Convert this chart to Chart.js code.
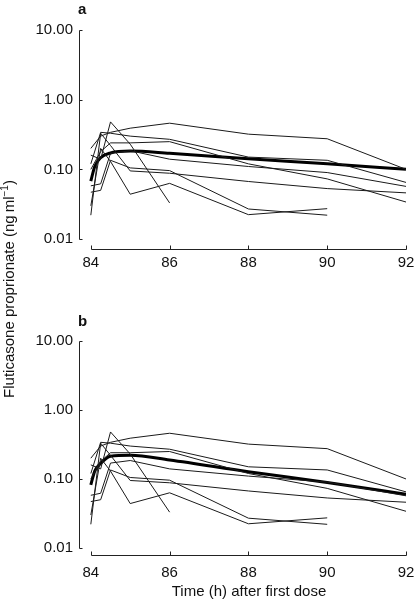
<!DOCTYPE html>
<html>
<head>
<meta charset="utf-8">
<script src="https://cdn.jsdelivr.net/npm/chart.js@4.4.1/dist/chart.umd.min.js"></script>
<style>
  body { margin: 0; background: #fff; }
  #wrap { position: relative; width: 418px; height: 602px; overflow: hidden; }
  .panel { position: absolute; left: 0; width: 418px; height: 301px; }
  #ytitle {
    position: absolute; left: -120px; top: 279px; width: 260px; height: 20px;
    line-height: 20px; text-align: center; white-space: nowrap;
    font: 15px "Liberation Sans", Arial, sans-serif; color: #111;
    transform: rotate(-90deg);
  }
</style>
</head>
<body>
<div id="wrap">
  <canvas id="chartA" class="panel" style="top:0" width="418" height="301"></canvas>
  <canvas id="chartB" class="panel" style="top:301px" width="418" height="301"></canvas>
  <div id="ytitle">Fluticasone proprionate (ng&#8201;ml<sup style="font-size:10px;line-height:0">&minus;1</sup>)</div>
</div>
<script>
// sampling times (h after first dose)
var times = [84, 84.25, 84.5, 85, 86, 88, 90, 92];
// individual subjects, ng/ml (null = not measured / below limit)
var subj1 = [0.20, 0.30, 0.34, 0.39, 0.46, 0.32, 0.275, 0.10];
var subj2 = [0.12, 0.34, 0.33, 0.30, 0.27, 0.15, 0.135, 0.065];
var subj3 = [0.10, 0.18, 0.24, 0.24, 0.25, 0.12, 0.073, 0.034];
var subj4 = [0.058, 0.062, 0.17, 0.185, 0.14, 0.11, 0.09, 0.057];
var subj5 = [0.022, 0.33, 0.22, 0.095, 0.088, 0.067, 0.053, 0.046];
var subj6 = [0.047, 0.05, 0.135, 0.105, 0.096, 0.027, 0.022, null];
var subj7 = [0.03, 0.2, 0.13, 0.044, 0.063, 0.0224, 0.0273, null];
var subj8 = [0.16, 0.14, 0.48, 0.23, 0.033, null, null, null];
var subjects = [subj1, subj2, subj3, subj4, subj5, subj6, subj7, subj8];

// predicted profiles (thick line)
var predTimes = [84, 84.1, 84.25, 84.5, 85, 86, 88, 90, 92];
var predA = [0.068, 0.11, 0.147, 0.172, 0.183, 0.17, 0.142, 0.12, 0.10];
var predB = [0.082, 0.13, 0.168, 0.214, 0.22, 0.188, 0.127, 0.089, 0.060];

var yTicks = [0.01, 0.1, 1, 10];
var xTicks = [84, 86, 88, 90, 92];

var FONT = '"Liberation Sans", Arial, sans-serif';

function toPoints(xs, ys) {
    var pts = [];
    for (var i = 0; i < xs.length; i++) {
        if (ys[i] != null) pts.push({ x: xs[i], y: ys[i] });
    }
    return pts;
}

// axes drawn like the original: offset, ticks pointing inward
var axesPlugin = {
    id: 'axes',
    afterDraw: function (chart) {
        var o = chart.options.plugins.axes;
        var ctx = chart.ctx, xs = chart.scales.x, ys = chart.scales.y;
        var left = Math.round(chart.chartArea.left) + 0.5;
        var bottom = Math.round(chart.chartArea.bottom) + 0.5;
        ctx.save();
        ctx.strokeStyle = '#222';
        ctx.lineWidth = 1;
        ctx.beginPath();
        var yTop = Math.round(ys.getPixelForValue(yTicks[yTicks.length - 1])) + 0.5;
        var yBot = Math.round(ys.getPixelForValue(yTicks[0])) + 0.5;
        ctx.moveTo(left, yTop); ctx.lineTo(left, yBot);
        yTicks.forEach(function (v) {
            var p = Math.round(ys.getPixelForValue(v)) + 0.5;
            ctx.moveTo(left, p); ctx.lineTo(left + 3, p);
        });
        var x0 = Math.round(xs.getPixelForValue(xTicks[0])) + 0.5;
        var x1 = Math.round(xs.getPixelForValue(xTicks[xTicks.length - 1])) + 0.5;
        ctx.moveTo(x0, bottom); ctx.lineTo(x1, bottom);
        xTicks.forEach(function (v) {
            var p = Math.round(xs.getPixelForValue(v)) + 0.5;
            ctx.moveTo(p, bottom); ctx.lineTo(p, bottom - 4);
        });
        ctx.stroke();

        ctx.fillStyle = '#111';
        ctx.font = 'bold 15px ' + FONT;
        ctx.textAlign = 'left';
        ctx.textBaseline = 'alphabetic';
        ctx.fillText(o.letter, 78, o.letterY);

        if (o.xTitle) {
            ctx.font = '15px ' + FONT;
            ctx.textAlign = 'center';
            ctx.textBaseline = 'middle';
            ctx.fillText(o.xTitle, (x0 + x1) / 2, o.xTitleY);
        }
        ctx.restore();
    }
};

function makeChart(id, pred, cfg) {
    var datasets = subjects.map(function (s) {
        return {
            data: toPoints(times, s),
            borderColor: '#1a1a1a',
            borderWidth: 1,
            pointRadius: 0,
            tension: 0,
            fill: false
        };
    });
    datasets.push({
        data: toPoints(predTimes, pred),
        borderColor: '#000',
        borderWidth: 3,
        pointRadius: 0,
        cubicInterpolationMode: 'monotone',
        fill: false
    });

    return new Chart(document.getElementById(id), {
        type: 'line',
        data: { datasets: datasets },
        plugins: [axesPlugin],
        options: {
            responsive: false,
            animation: false,
            layout: { padding: { left: 0, right: 12, top: cfg.top, bottom: 0 } },
            plugins: {
                legend: { display: false },
                tooltip: { enabled: false },
                axes: { letter: cfg.letter, letterY: cfg.letterY, xTitle: cfg.xTitle, xTitleY: cfg.xTitleY }
            },
            scales: {
                x: {
                    type: 'linear',
                    min: 83.7,
                    max: 92,
                    grid: { display: false, drawTicks: false },
                    border: { display: false },
                    afterBuildTicks: function (s) { s.ticks = xTicks.map(function (v) { return { value: v }; }); },
                    afterFit: function (s) { s.height = cfg.xHeight; s.paddingRight = 0; s.paddingLeft = 0; },
                    ticks: { color: '#111', font: { family: FONT, size: 15, lineHeight: cfg.xLine }, padding: 6, maxRotation: 0, autoSkip: false }
                },
                y: {
                    type: 'logarithmic',
                    min: cfg.yMin,
                    max: 10,
                    grid: { display: false, drawTicks: false },
                    border: { display: false },
                    afterBuildTicks: function (s) { s.ticks = yTicks.map(function (v) { return { value: v }; }); },
                    afterFit: function (s) { s.width = 79; },
                    ticks: {
                        color: '#111', font: { family: FONT, size: 15 }, padding: 6, autoSkip: false,
                        callback: function (v) { return Number(v).toFixed(2); }
                    }
                }
            }
        }
    });
}

makeChart('chartA', predA, { top: 30, xHeight: 52, xLine: 1.1, yMin: 0.0072, letter: 'a', letterY: 14 });
makeChart('chartB', predB, { top: 40, xHeight: 47, xLine: 1.6, yMin: 0.0079, letter: 'b', letterY: 25,
    xTitle: 'Time (h) after first dose', xTitleY: 291 });
</script>
</body>
</html>
